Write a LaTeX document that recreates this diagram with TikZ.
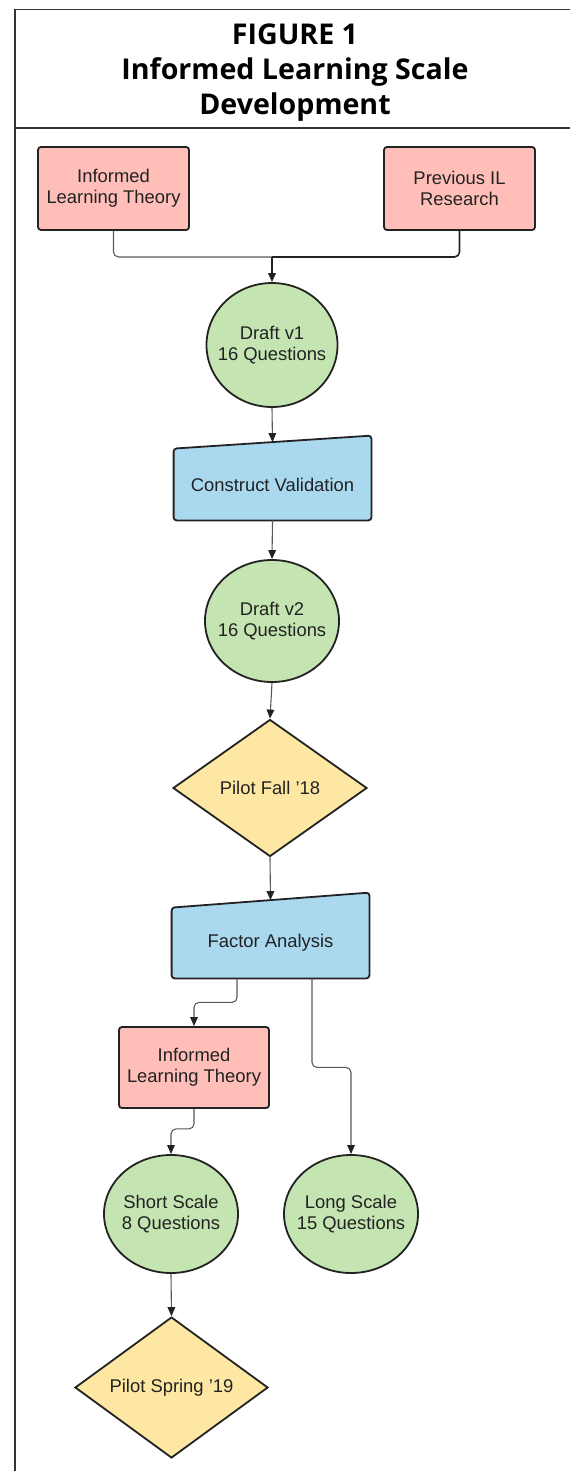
\documentclass[tikz,border=0pt]{standalone}
\usepackage{fontspec}
\setmainfont{Liberation Sans}
\newfontfamily\titlefont{Open Sans}
\usetikzlibrary{shapes.geometric,arrows.meta,backgrounds}
\definecolor{ilpink}{HTML}{FFBFB8}
\definecolor{ilgreen}{HTML}{C4E5B2}
\definecolor{ilblue}{HTML}{A9D8EF}
\definecolor{ilyellow}{HTML}{FDE7A2}
\definecolor{ilink}{HTML}{222222}

\begin{document}
\begin{tikzpicture}[x=0.5pt, y=-0.5pt,
    every node/.style={font=\fontsize{9.2}{10.5}\selectfont, text=ilink, align=center, inner sep=0pt},
    heading/.style={font=\titlefont\bfseries\fontsize{14.3}{18}\selectfont, text=black, anchor=base},
    theory/.style={draw=ilink, fill=ilpink, line width=0.9pt, rounded corners=1.5pt, minimum width=75.5pt, minimum height=41.5pt},
    draft/.style={ellipse, draw=ilink, fill=ilgreen, line width=0.9pt, inner xsep=-6pt, minimum width=65.5pt, minimum height=62pt},
    pilot/.style={diamond, draw=ilink, fill=ilyellow, line width=0.9pt, minimum width=97pt, minimum height=68.5pt},
    manual/.style={minimum width=98.5pt, minimum height=35.5pt},
    manualshape/.style={fill=ilblue, draw=ilink, line width=0.9pt, rounded corners=1.5pt},
    flow/.style={draw=black!65, line width=0.55pt, -{Triangle[length=4.5pt,width=3.8pt,color=ilink]}, rounded corners=2.5pt},
    frame/.style={draw=black!80, line width=0.8pt}]
    \useasboundingbox (0,0) rectangle (570,1471);
    \draw[frame] (15,1471) -- (15,9.5) -- (570,9.5);
    \draw[frame] (15,128) -- (570,128);
    \node[heading] (title1) at (295,45) {FIGURE 1};
    \node[heading] (title2) at (295,80) {Informed Learning Scale};
    \node[heading] (title3) at (295,115) {Development};

    \node[theory] (ilt) at (113.5,188.5) {Informed\\Learning Theory};
    \node[theory] (prev) at (459.5,188.5) {Previous IL\\Research};
    \node[draft] (v1) at (272,345) {Draft v1\\16 Questions};
    \node[manual] (cv) at (272.5,484.5) {Construct Validation};
    \node[draft, minimum width=67pt, minimum height=61pt] (v2) at (272,621) {Draft v2\\16 Questions};
    \node[pilot] (fall) at (270,788) {Pilot Fall '18};
    \node[manual, minimum height=35pt] (fa) at (270.5,943) {Factor Analysis};
    \node[theory, minimum width=75pt, minimum height=40.5pt] (ilt2) at (194,1067.5) {Informed\\Learning Theory};
    \node[draft, minimum width=67pt, minimum height=59pt] (short) at (171,1214) {Short Scale\\8 Questions};
    \node[draft, minimum width=67pt, minimum height=59pt] (long) at (351,1214) {Long Scale\\15 Questions};
    \node[pilot, minimum width=96.5pt, minimum height=69.5pt] (spring) at (171.5,1387.5) {Pilot Spring '19};

    \begin{scope}[on background layer]
        \filldraw[manualshape] (cv.south west) -- (cv.north west) -- ([yshift=6.5pt]cv.north east) -- (cv.south east) -- cycle;
        \filldraw[manualshape] (fa.south west) -- (fa.north west) -- ([yshift=7.5pt]fa.north east) -- (fa.south east) -- cycle;
    \end{scope}

    \coordinate (join) at (272,257);
    \draw[flow, -] (ilt.south) |- (join);
    \draw[flow, -, draw=ilink, line width=0.8pt] (prev.south) |- (join);
    \draw[flow, draw=ilink, line width=0.8pt] (join) -- (v1.north);
    \draw[flow] (v1.south) -- ([yshift=3.25pt]cv.north);
    \draw[flow] (cv.south) -- (v2.north);
    \draw[flow] (v2.south) -- (fall.north);
    \draw[flow] (fall.south) -- ([yshift=3.75pt]fa.north);
    \draw[flow] ([xshift=-16.75pt]fa.south) -- ++(0,24) -| (ilt2.north);
    \draw[flow] ([xshift=20.75pt]fa.south) -- ++(0,89) -| (long.north);
    \draw[flow] (ilt2.south) -- ++(0,20) -| (short.north);
    \draw[flow] (short.south) -- (spring.north);
\end{tikzpicture}
\end{document}
